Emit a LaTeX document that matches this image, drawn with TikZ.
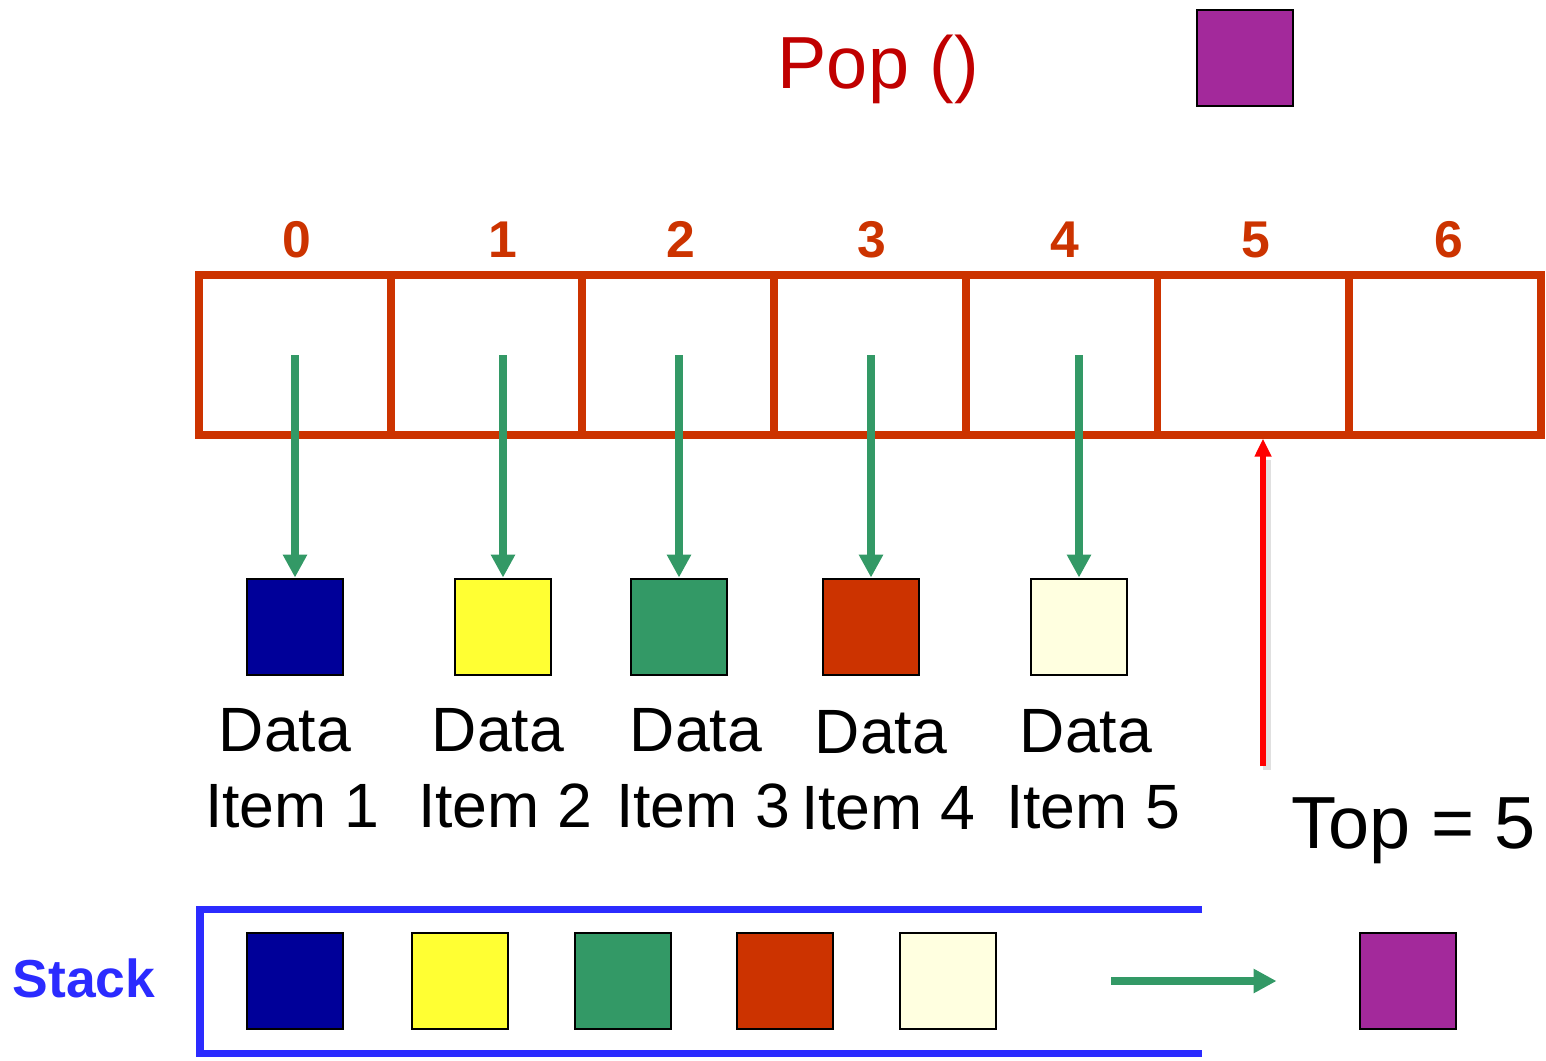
\documentclass[tikz,border=0pt]{standalone}
\usepackage{fontspec}
\setmainfont{Liberation Sans}
\usetikzlibrary{arrows.meta,positioning,calc}

\definecolor{arrayred}{HTML}{CC3300}
\definecolor{popred}{HTML}{C00000}
\definecolor{ptrgreen}{HTML}{339966}
\definecolor{stackblue}{HTML}{2B2BFF}
\definecolor{itemnavy}{HTML}{000099}
\definecolor{itemyellow}{HTML}{FFFF33}
\definecolor{itemcream}{HTML}{FFFFE0}
\definecolor{itempurple}{HTML}{A3299B}

\tikzset{
  cell/.style={draw=arrayred, line width=2.2pt, minimum width=1.917cm, minimum height=1.595cm, inner sep=0pt},
  item/.style={draw=black, line width=0.8pt, minimum size=0.96cm, inner sep=0pt},
  ptr/.style={ptrgreen, line width=2.2pt, -{Triangle[width=0.23cm,length=0.23cm]}},
  idx/.style={text=arrayred, font=\fontsize{14.7}{17}\selectfont\bfseries, anchor=base, inner sep=0pt},
  itemlabel/.style={align=center, font=\fontsize{17.8}{21.6}\selectfont, inner sep=0pt},
}

\begin{document}
\begin{tikzpicture}[x=0.01cm, y=-0.01cm]
    \useasboundingbox (0,0) rectangle (1546,1060);

    % 出栈操作
    \node[anchor=base west, text=popred, font=\fontsize{21}{25}\selectfont, inner sep=0pt] (pop) at (777,88) {Pop ()};
    \node[item, fill=itempurple] (popped) at (1245,58) {};

    % 数组单元 0..6
    \foreach \i in {0,...,6}
        \node[cell] (c\i) at ({199+191.7*(\i+0.5)},355) {};

    % 下标
    \foreach \i/\x in {0/297, 1/503, 2/681, 3/872, 4/1065, 5/1256, 6/1449}
        \node[idx] (i\i) at (\x,257) {\i};

    % 数据项与指针
    \foreach \i/\x/\c in {1/295/itemnavy, 2/503/itemyellow, 3/679/ptrgreen, 4/871/arrayred, 5/1079/itemcream} {
        \node[item, fill=\c] (d\i) at (\x,627) {};
        \draw[ptr] (d\i.north |- c0.center) -- (d\i.north);
    }

    % 数据项标签
    \foreach \i/\x/\y in {1/292/768, 2/505/768, 3/703/768, 4/888/770, 5/1093/769}
        \node[itemlabel] (l\i) at (\x,\y) {Data\hspace*{4pt}\\Item \i};

    % 栈顶指针
    \coordinate (topfoot) at (1263,766);
    \draw[black!12, line width=2.4pt] ([xshift=1.2pt,yshift=-1pt]topfoot) -- ([xshift=1.2pt,yshift=-6pt]topfoot |- c5.south);
    \draw[red, line width=1.5pt, -{Triangle[width=0.16cm,length=0.18cm]}] (topfoot) -- (topfoot |- c5.south);
    \node[anchor=base west, font=\fontsize{21}{25}\selectfont, inner sep=0pt] (topval) at (1291,848) {Top = 5};

    % 栈
    \node[anchor=base west, text=stackblue, font=\fontsize{15.2}{18}\selectfont\bfseries, inner sep=0pt] (stack) at (12,997) {Stack};
    \draw[stackblue, line width=2pt] (1202,909) -- (200,909) -- (200,1053) -- (1202,1053);
    \foreach \i/\x/\c in {1/295/itemnavy, 2/460/itemyellow, 3/623/ptrgreen, 4/785/arrayred, 5/948/itemcream}
        \node[item, fill=\c] (s\i) at (\x,981) {};

    % 弹出的元素
    \node[item, fill=itempurple] (out) at (1408,981) {};
    \coordinate (popfrom) at (1111,981);
    \draw[ptr] (popfrom) -- ([xshift=-0.82cm]out.west);
\end{tikzpicture}
\end{document}
